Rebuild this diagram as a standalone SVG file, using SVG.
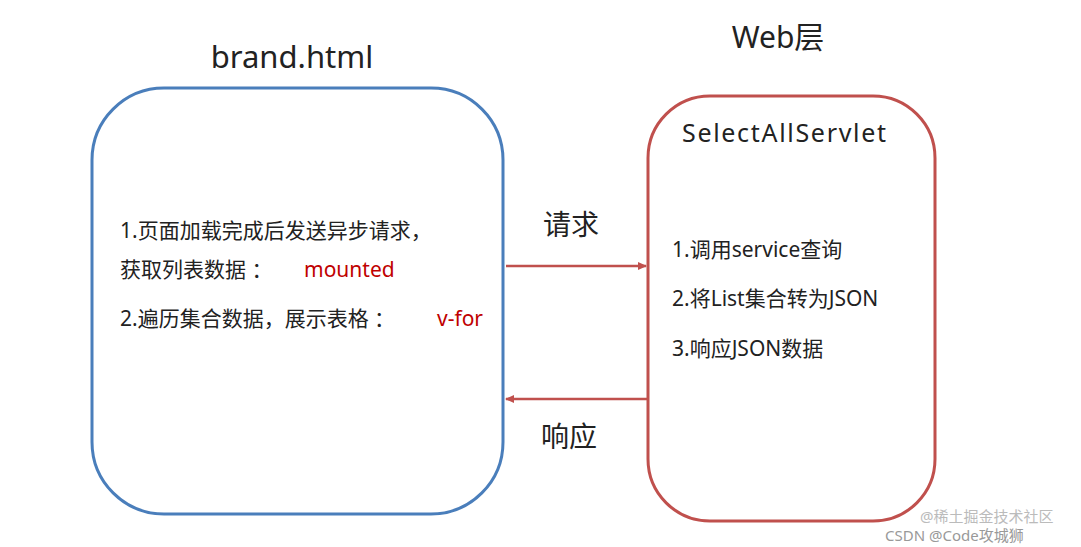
<svg xmlns="http://www.w3.org/2000/svg" width="1081" height="547" viewBox="0 0 1081 547">
<style>
text{font-family:"Noto Sans","Noto Sans CJK SC",sans-serif;fill:#222}
.t{font-size:21px}
.red{fill:#c00000}
.c{stroke:#c0504d;stroke-width:2.5;fill:none}
</style>
<defs><marker id="a" markerWidth="10" markerHeight="10" refX="8" refY="5" orient="auto" markerUnits="userSpaceOnUse"><path d="M0,1 L9,5 L0,9 z" fill="#c0504d"/></marker></defs>
<rect width="1081" height="547" fill="#fff"/>
<g id="brand">
<text x="292" y="68" font-size="31" text-anchor="middle">brand.html</text>
<rect x="92" y="88" width="411" height="426" rx="72" fill="none" stroke="#4a7ebb" stroke-width="3"/>
<text class="t" x="120" y="238">1.页面加载完成后发送异步请求，</text>
<text class="t" x="120" y="277">获取列表数据 ：</text>
<text class="t red" x="304" y="277">mounted</text>
<text class="t" x="120" y="326">2.遍历集合数据，展示表格 ：</text>
<text class="t red" x="437" y="326">v-for</text>
</g>
<g id="web">
<text x="778" y="48" font-size="30" text-anchor="middle">Web层</text>
<rect x="648" y="96" width="287" height="425" rx="62" fill="none" stroke="#c0504d" stroke-width="3"/>
<text x="682" y="142" font-size="25" textLength="204">SelectAllServlet</text>
<text class="t" x="672" y="257">1.调用service查询</text>
<text class="t" x="672" y="306">2.将List集合转为JSON</text>
<text class="t" x="672" y="356">3.响应JSON数据</text>
</g>
<g id="connectors">
<line class="c" x1="506" y1="266" x2="646" y2="266" marker-end="url(#a)"/>
<text x="543" y="235" font-size="28">请求</text>
<line class="c" x1="648" y1="399" x2="506" y2="399" marker-end="url(#a)"/>
<text x="541" y="447" font-size="28">响应</text>
</g>
<text x="920" y="522" font-size="15" style="fill:#bbb">@稀土掘金技术社区</text>
<text x="885" y="541" font-size="15" style="fill:#999">CSDN @Code攻城狮</text>
</svg>
